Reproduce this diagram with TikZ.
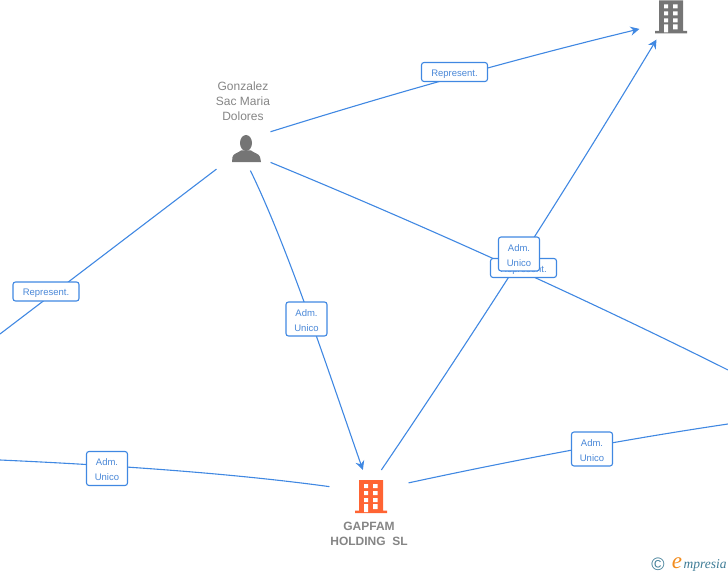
\documentclass[tikz,border=0pt]{standalone}
\usepackage{fontspec}
\setmainfont{Liberation Sans}
\newfontfamily\logofont{Liberation Serif}
\usetikzlibrary{arrows.meta}
\definecolor{linkblue}{HTML}{4088E2}
\definecolor{labelblue}{HTML}{4A88D8}
\definecolor{icongrey}{HTML}{757575}
\definecolor{textgrey}{HTML}{858585}
\definecolor{iconorange}{HTML}{FF6433}
\definecolor{logoteal}{HTML}{3E7C96}
\definecolor{logoorange}{HTML}{F28C1E}
\newcommand{\tagstrut}{\rule{0pt}{10pt}}
\begin{document}
\begin{tikzpicture}[x=1pt,y=-1pt,line width=1.1pt]
    \tikzstyle{link}=[draw=linkblue]
    \tikzstyle{linkarrow}=[link,-{Stealth[length=9pt,width=9pt,inset=3pt]}]
    \tikzstyle{tag}=[draw=linkblue,fill=white,rounded corners=2.5pt,text=labelblue,align=center,
        inner sep=0pt,font=\fontsize{9.5}{15}\selectfont]
    \tikzstyle{spot}=[rectangle,inner sep=0pt]
    \tikzstyle{nametext}=[text=textgrey,align=center,inner sep=0pt,font=\fontsize{12}{15}\selectfont]
    \useasboundingbox (0,0) rectangle (728,575);

    \node[spot,minimum width=53pt,minimum height=44pt] (person) at (243.5,148) {};
    \node[spot,minimum width=78pt,minimum height=52pt] (gapfam) at (369,496.5) {};
    \node[spot,minimum width=58pt,minimum height=44pt] (topbld) at (669,17) {};
    \coordinate (leftA) at (0,334);
    \coordinate (leftB) at (0,460);
    \coordinate (rightA) at (728,370);
    \coordinate (rightB) at (728,424);

    \draw[linkarrow] (person.31) .. controls (393,93.5) and (517,58.5) .. (topbld.202.5);
    \draw[link] (person.218) -- (leftA);
    \draw[linkarrow] (person.-73.5) .. controls (288,248) and (328,370) .. (gapfam.103);
    \draw[link] (person.-28) .. controls (420,224) and (580,296) .. (rightA);
    \draw[linkarrow] (gapfam.65) .. controls (475,332) and (567,188) .. (topbld.241.4);
    \draw[link] (leftB) .. controls (110,465) and (230,473) .. (gapfam.166);
    \draw[link] (gapfam.19) .. controls (510,461) and (620,440) .. (rightB);

    \foreach \nm/\x/\y/\txt in {t1/454.5/72/Represent., t2/46/291.5/Represent., t3/523.5/268/Represent.}
        \node[tag,minimum width=66pt,minimum height=19pt] (\nm) at (\x,\y) {\tagstrut\txt};
    \foreach \nm/\x/\y in {t4/306.5/319, t5/519/254, t6/107/468.5, t7/592/449}
        \node[tag,minimum width=41pt,minimum height=34pt] (\nm) at (\x,\y) {\tagstrut Adm.\\Unico};

    % building icons
    \foreach \bld/\col in {gapfam/iconorange, topbld/icongrey} {
        \begin{scope}[shift={([xshift=2pt]\bld.center)}]
            \fill[\col] (-12,-16.5) rectangle (12,14) (-16,14) rectangle (16,16.5);
            \foreach \wy in {-12.5,-5.5,1.5}
                \fill[white] (-7,\wy) rectangle (-3,\wy+4) (2,\wy) rectangle (6.5,\wy+4);
            \fill[white] (-7,7.5) rectangle (-3,15.5) (2,7.5) rectangle (6.5,12.5);
        \end{scope}
    }

    % person icon
    \fill[icongrey] (246,143) ellipse (6 and 8);
    \fill[icongrey] (232,162) -- (232.5,157) .. controls (233,153.5) and (238,153) .. (241,150.5)
        -- (251,150.5) .. controls (254,153) and (259,153.5) .. (260,157) -- (261,162) -- cycle;

    \node[nametext] (pname) at (243,101) {Gonzalez\\Sac Maria\\Dolores};
    \node[nametext,font=\fontsize{12}{15}\selectfont\bfseries] (gname) at (369,533.5) {GAPFAM\\HOLDING\ \ SL};

    \node[text=logoteal,inner sep=0pt,font=\fontsize{18}{18}\selectfont] (copy) at (658,564) {©};
    \node[text=logoorange,inner sep=0pt,font=\logofont\itshape\fontsize{23}{23}\selectfont] (logoe) at (677,563) {e};
    \node[text=logoteal,inner sep=0pt,anchor=west,font=\logofont\itshape\fontsize{13.5}{14}\selectfont] (logot) at (683,565) {mpresia};
\end{tikzpicture}
\end{document}
